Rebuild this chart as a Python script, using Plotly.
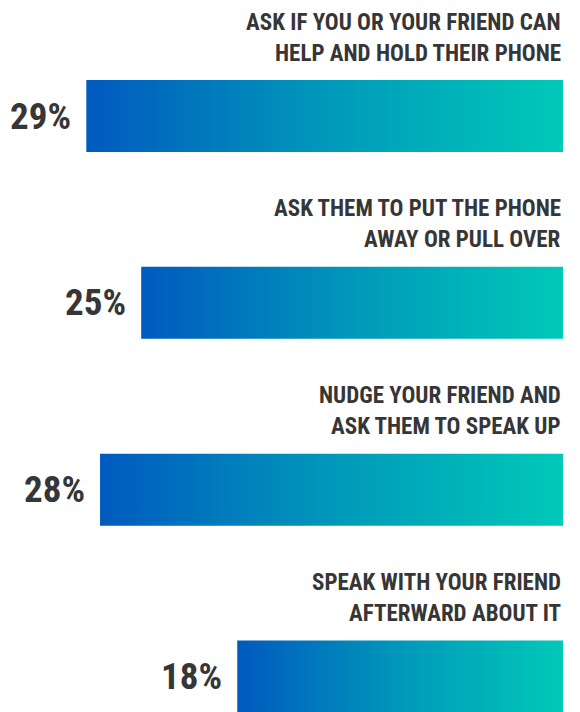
import plotly.graph_objects as go

# ---- data ----
labels_line1 = [
    "ASK IF YOU OR YOUR FRIEND CAN",
    "ASK THEM TO PUT THE PHONE",
    "NUDGE YOUR FRIEND AND",
    "SPEAK WITH YOUR FRIEND",
]
labels_line2 = [
    "HELP AND HOLD THEIR PHONE",
    "AWAY OR PULL OVER",
    "ASK THEM TO SPEAK UP",
    "AFTERWARD ABOUT IT",
]
values = [29, 25, 28, 18]
value_labels = ["29%", "25%", "28%", "18%"]

# ---- style ----
FONT = "Roboto Condensed, Roboto, sans-serif"
TEXT_COLOR = "#363636"
BAR_OFFSET = 5.74   # visual base offset of bars
HALF_H = 0.1927     # half bar height in category units
GRAD = [[0, "#005ABF"], [0.5, "#0098BA"], [1, "#00C9B8"]]

fig = go.Figure()
annotations = []
for i, v in enumerate(values):
    end = v + BAR_OFFSET
    fig.add_trace(go.Scatter(
        x=[0, 0, end, end, 0],
        y=[i - HALF_H, i + HALF_H, i + HALF_H, i - HALF_H, i - HALF_H],
        mode="lines",
        line=dict(width=0),
        fill="toself",
        fillgradient=dict(type="horizontal", colorscale=GRAD),
        hoverinfo="skip",
        showlegend=False,
    ))
    annotations.append(dict(
        x=end, y=i, xref="x", yref="y", xanchor="right", yanchor="middle",
        xshift=-13, text=value_labels[i], showarrow=False,
        font=dict(family=FONT, size=37, color=TEXT_COLOR, weight="bold"),
    ))
    for txt, dy in ((labels_line1[i], -0.503), (labels_line2[i], -0.337)):
        annotations.append(dict(
            x=563 / 580, y=i + dy, xref="paper", yref="y",
            xanchor="right", yanchor="middle", text=txt, showarrow=False,
            font=dict(family=FONT, size=23, color=TEXT_COLOR, weight="bold"),
        ))

fig.update_layout(
    width=580, height=712,
    margin=dict(l=0, r=0, t=0, b=0),
    paper_bgcolor="white", plot_bgcolor="white",
    xaxis=dict(range=[41.03, -1.24], visible=False, fixedrange=True),
    yaxis=dict(range=[3.190, -0.621], visible=False, fixedrange=True),
    annotations=annotations,
)

fig.write_html("out.html", config={"displayModeBar": False})
